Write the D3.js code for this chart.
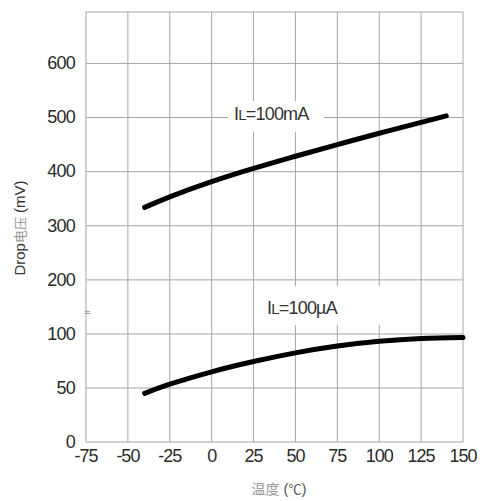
<!DOCTYPE html>
<html lang="zh">
<head>
<meta charset="UTF-8">
<title>Drop电压 vs 温度</title>
<script src="https://cdn.jsdelivr.net/npm/d3@7"></script>
<style>
  body { margin: 0; background: #fff; }
  text { font-family: "Liberation Sans", Arial, sans-serif; }
</style>
</head>
<body>
<script>
// data
var temps   = [-75, -50, -25, 0, 25, 50, 75, 100, 125, 150];
var yTicks  = [0, 50, 100, 200, 300, 400, 500, 600];

var tempMA  = [-40, -25, 0, 25, 50, 75, 100, 125, 140];
var dropMA  = [334, 353.5, 381.5, 406, 428.5, 450, 471, 491, 503];

var tempUA  = [-40, -25, 0, 25, 50, 75, 100, 125, 150];
var dropUA  = [45, 53.5, 65, 74.5, 82.5, 88.8, 93.2, 95.8, 96.8];

var W = 483, H = 501;
var pLeft = 86, pRight = 463, pTop = 12, pBottom = 442;

var svg = d3.select("body").append("svg")
  .attr("width", W).attr("height", H);

var x = d3.scaleLinear().domain([-75, 150]).range([pLeft, pRight]);
// broken axis: 0-100 gets twice the room per unit than 100-695
var y = d3.scaleLinear().domain([0, 100, 695]).range([pBottom, 334, pTop]);

var gridColor = "#a6a6a6";

// grid
svg.append("g").selectAll("line").data(temps).enter().append("line")
  .attr("x1", d => x(d)).attr("x2", d => x(d))
  .attr("y1", pTop).attr("y2", pBottom)
  .attr("stroke", gridColor).attr("stroke-width", 1);

svg.append("g").selectAll("line").data(yTicks).enter().append("line")
  .attr("x1", pLeft).attr("x2", pRight)
  .attr("y1", d => y(d)).attr("y2", d => y(d))
  .attr("stroke", gridColor).attr("stroke-width", 1);

// frame top
svg.append("line")
  .attr("x1", pLeft).attr("x2", pRight).attr("y1", pTop).attr("y2", pTop)
  .attr("stroke", gridColor);

// tick labels
svg.append("g").selectAll("text").data(yTicks).enter().append("text")
  .attr("x", 75).attr("y", d => y(d) + 1)
  .attr("text-anchor", "end").attr("dominant-baseline", "middle")
  .attr("font-size", 18).attr("letter-spacing", -0.8).attr("fill", "#2a2a2a")
  .text(d => d);

svg.append("g").selectAll("text").data(temps).enter().append("text")
  .attr("x", d => x(d)).attr("y", 457)
  .attr("text-anchor", "middle").attr("dominant-baseline", "middle")
  .attr("font-size", 18).attr("letter-spacing", -1).attr("fill", "#2a2a2a")
  .text(d => d);

// axis break mark
svg.append("text")
  .attr("x", pLeft + 1).attr("y", 313)
  .attr("text-anchor", "middle").attr("dominant-baseline", "middle")
  .attr("font-size", 11).attr("fill", "#888")
  .text("≈");

// curve labels with white backing
function curveLabel(bx, by, bw, bh, tx, ty, unit) {
  svg.append("rect").attr("x", bx).attr("y", by)
    .attr("width", bw).attr("height", bh).attr("fill", "#fff");
  var t = svg.append("text").attr("x", tx).attr("y", ty)
    .attr("font-size", 18).attr("letter-spacing", -0.8).attr("fill", "#333");
  t.append("tspan").text("I");
  t.append("tspan").attr("font-size", 15).text("L");
  t.append("tspan").text("=100" + unit);
}
curveLabel(228, 101, 96, 31, 234, 120, "mA");
curveLabel(262, 286, 128, 39, 267, 314, "µA");

// curves
var line = d3.line()
  .x(d => x(d[0])).y(d => y(d[1]))
  .curve(d3.curveNatural);

svg.append("path")
  .datum(d3.zip(tempMA, dropMA))
  .attr("d", line)
  .attr("fill", "none").attr("stroke", "#000")
  .attr("stroke-width", 5).attr("stroke-linecap", "round");

svg.append("path")
  .datum(d3.zip(tempUA, dropUA))
  .attr("d", line)
  .attr("fill", "none").attr("stroke", "#000")
  .attr("stroke-width", 5).attr("stroke-linecap", "round");

// axis titles
var yt = svg.append("text")
  .attr("transform", "translate(25,228) rotate(-90)")
  .attr("text-anchor", "middle")
  .attr("font-size", 15).attr("fill", "#333");
yt.append("tspan").text("Drop");
yt.append("tspan").attr("fill", "#999").attr("font-family", "Noto Sans CJK SC")
  .attr("font-size", 13).text("电压");
yt.append("tspan").text(" (mV)");

var xt = svg.append("text")
  .attr("x", 279).attr("y", 494)
  .attr("text-anchor", "middle")
  .attr("font-size", 15).attr("fill", "#555");
xt.append("tspan").attr("font-family", "Noto Sans CJK SC").attr("fill", "#999")
  .attr("font-size", 14).text("温度");
xt.append("tspan").text(" (");
xt.append("tspan").attr("font-family", "Noto Sans CJK SC").attr("font-size", 13).text("℃");
xt.append("tspan").text(")");
</script>
</body>
</html>
